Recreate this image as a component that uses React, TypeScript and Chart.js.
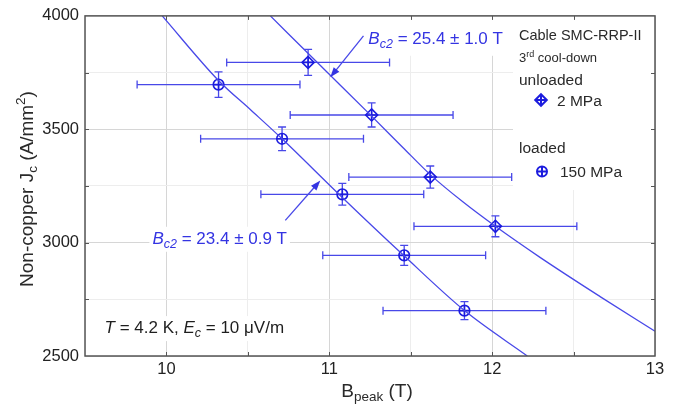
import React, { useEffect, useRef } from "react";
import { Chart, registerables } from "chart.js";
Chart.register(...registerables);

// ---------- data ----------
const xTickValues = [10, 11, 12, 13];
const xTickLabels = ["10", "11", "12", "13"];
const yTickValues = [2500, 3000, 3500, 4000];
const yTickLabels = ["2500", "3000", "3500", "4000"];

// unloaded, 2 MPa (diamonds)
const unloadedB = [10.87, 11.26, 11.62, 12.02];
const unloadedJc = [3795, 3563, 3289, 3072];
const unloadedBErr = [0.5, 0.5, 0.5, 0.5];
const unloadedJcErr = [57, 53, 49, 46];

// loaded, 150 MPa (circles)
const loadedB = [10.32, 10.71, 11.08, 11.46, 11.83];
const loadedJc = [3697, 3458, 3213, 2944, 2700];
const loadedBErr = [0.5, 0.5, 0.5, 0.5, 0.5];
const loadedJcErr = [56, 52, 48, 44, 40];

// fit curves
const fitUnloadedB = [10.638, 10.95, 11.26, 11.45, 11.62, 11.82, 12.018, 12.294, 12.663, 13.0];
const fitUnloadedJc = [4000, 3778, 3558, 3421, 3300, 3180, 3073, 2935, 2762, 2609];
const fitLoadedB = [9.974, 10.321, 10.515, 10.71, 11.067, 11.456, 11.834, 12.216];
const fitLoadedJc = [4000, 3714, 3587, 3458, 3208, 2944, 2698, 2500];

const FONT = '"Liberation Sans", Arial, Helvetica, sans-serif';
const LINE = "rgb(72,72,232)";
const MARK = "rgb(28,28,222)";
const TEXTBLUE = "rgb(52,52,226)";
const AXIS = "#555555";

type Part = { t: string; size: number; italic?: boolean; dy?: number };
const fontOf = (p: Part) => `${p.italic ? "italic " : ""}${p.size}px ${FONT}`;
function partsWidth(ctx: CanvasRenderingContext2D, parts: Part[]) {
  let w = 0;
  for (const p of parts) {
    ctx.font = fontOf(p);
    w += ctx.measureText(p.t).width;
  }
  return w;
}
function drawParts(ctx: CanvasRenderingContext2D, parts: Part[], x: number, y: number) {
  let cx = x;
  for (const p of parts) {
    ctx.font = fontOf(p);
    ctx.fillText(p.t, cx, y + (p.dy || 0));
    cx += ctx.measureText(p.t).width;
  }
}

const ann1: Part[] = [
  { t: "B", size: 17, italic: true },
  { t: "c2", size: 12.5, italic: true, dy: 4 },
  { t: " = 25.4 \u00B1 1.0 T", size: 17 },
];
const ann2: Part[] = [
  { t: "B", size: 17, italic: true },
  { t: "c2", size: 12.5, italic: true, dy: 4 },
  { t: " = 23.4 \u00B1 0.9 T", size: 17 },
];
const ann3: Part[] = [
  { t: "T", size: 17, italic: true },
  { t: " = 4.2 K, ", size: 17 },
  { t: "E", size: 17, italic: true },
  { t: "c", size: 12.5, italic: true, dy: 4 },
  { t: " = 10 \u03BCV/m", size: 17 },
];
const yTitle: Part[] = [
  { t: "Non-copper J", size: 19 },
  { t: "c", size: 13.5, dy: 4 },
  { t: " (A/mm", size: 19 },
  { t: "2", size: 13.5, dy: -8 },
  { t: ")", size: 19 },
];
const xTitle: Part[] = [
  { t: "B", size: 19 },
  { t: "peak", size: 13.5, dy: 4 },
  { t: " (T)", size: 19 },
];

function arrow(ctx: CanvasRenderingContext2D, x0: number, y0: number, x1: number, y1: number) {
  const ang = Math.atan2(y1 - y0, x1 - x0);
  const L = 10, W = 3.6;
  ctx.beginPath();
  ctx.moveTo(x0, y0);
  ctx.lineTo(x1 - Math.cos(ang) * L * 0.8, y1 - Math.sin(ang) * L * 0.8);
  ctx.stroke();
  ctx.beginPath();
  ctx.moveTo(x1, y1);
  ctx.lineTo(x1 - Math.cos(ang) * L - Math.sin(ang) * W, y1 - Math.sin(ang) * L + Math.cos(ang) * W);
  ctx.lineTo(x1 - Math.cos(ang) * L + Math.sin(ang) * W, y1 - Math.sin(ang) * L - Math.cos(ang) * W);
  ctx.closePath();
  ctx.fill();
}

function legendMarker(ctx: CanvasRenderingContext2D, x: number, y: number, diamond: boolean) {
  const r = 5;
  ctx.beginPath();
  if (diamond) {
    ctx.moveTo(x, y - r - 0.8);
    ctx.lineTo(x + r + 0.8, y);
    ctx.lineTo(x, y + r + 0.8);
    ctx.lineTo(x - r - 0.8, y);
    ctx.closePath();
  } else {
    ctx.arc(x, y, r, 0, Math.PI * 2);
  }
  ctx.moveTo(x - r, y);
  ctx.lineTo(x + r, y);
  ctx.moveTo(x, y - r);
  ctx.lineTo(x, y + r);
  ctx.stroke();
}

const overlay = {
  id: "overlay",
  beforeDatasetsDraw(chart: any) {
    const { ctx, scales, chartArea } = chart;
    const xs = scales.x, ys = scales.y;
    ctx.save();
    ctx.fillStyle = "#ffffff";
    // legend background
    ctx.fillRect(513, 16, 141, 174);
    // annotation backgrounds
    const a1x = xs.getPixelForValue(11.24), a1y = ys.getPixelForValue(3877);
    ctx.fillRect(a1x - 3, chartArea.top + 1, partsWidth(ctx, ann1) + 6, a1y + 12 - chartArea.top - 1);
    const a2x = xs.getPixelForValue(9.914), a2y = ys.getPixelForValue(2995);
    ctx.fillRect(a2x - 3, a2y - 17, partsWidth(ctx, ann2) + 6, 25);
    const a3x = xs.getPixelForValue(9.62), a3y = ys.getPixelForValue(2601);
    ctx.fillRect(a3x - 3, a3y - 17, partsWidth(ctx, ann3) + 6, 25);

    // error bars
    ctx.strokeStyle = LINE;
    ctx.lineWidth = 1.3;
    const bars = (B: number[], J: number[], BE: number[], JE: number[]) => {
      for (let i = 0; i < B.length; i++) {
        const cx = xs.getPixelForValue(B[i]);
        const cy = ys.getPixelForValue(J[i]);
        const xl = xs.getPixelForValue(B[i] - BE[i]);
        const xr = xs.getPixelForValue(B[i] + BE[i]);
        const yt = ys.getPixelForValue(J[i] + JE[i]);
        const yb = ys.getPixelForValue(J[i] - JE[i]);
        ctx.beginPath();
        ctx.moveTo(xl, cy); ctx.lineTo(xr, cy);
        ctx.moveTo(xl, cy - 4); ctx.lineTo(xl, cy + 4);
        ctx.moveTo(xr, cy - 4); ctx.lineTo(xr, cy + 4);
        ctx.moveTo(cx, yt); ctx.lineTo(cx, yb);
        ctx.moveTo(cx - 4, yt); ctx.lineTo(cx + 4, yt);
        ctx.moveTo(cx - 4, yb); ctx.lineTo(cx + 4, yb);
        ctx.stroke();
      }
    };
    bars(unloadedB, unloadedJc, unloadedBErr, unloadedJcErr);
    bars(loadedB, loadedJc, loadedBErr, loadedJcErr);
    ctx.restore();
  },
  afterDraw(chart: any) {
    const { ctx, scales, chartArea } = chart;
    const xs = scales.x, ys = scales.y;
    const { left, right, top, bottom } = chartArea;
    ctx.save();
    // frame
    ctx.strokeStyle = AXIS;
    ctx.lineWidth = 1.5;
    ctx.strokeRect(left, top, right - left, bottom - top);
    // inward tick marks
    ctx.lineWidth = 1;
    ctx.beginPath();
    for (let v = 10; v < 13; v += 0.5) {
      const px = Math.round(xs.getPixelForValue(v)) + 0.5;
      ctx.moveTo(px, bottom); ctx.lineTo(px, bottom - 4);
      ctx.moveTo(px, top); ctx.lineTo(px, top + 4);
    }
    for (let v = 2750; v < 4000; v += 250) {
      const py = Math.round(ys.getPixelForValue(v)) + 0.5;
      ctx.moveTo(left, py); ctx.lineTo(left + 4, py);
      ctx.moveTo(right, py); ctx.lineTo(right - 4, py);
    }
    ctx.stroke();

    ctx.textBaseline = "alphabetic";
    ctx.textAlign = "left";
    // annotations
    ctx.fillStyle = TEXTBLUE;
    ctx.strokeStyle = LINE;
    ctx.lineWidth = 1.3;
    drawParts(ctx, ann1, xs.getPixelForValue(11.24), ys.getPixelForValue(3877));
    drawParts(ctx, ann2, xs.getPixelForValue(9.914), ys.getPixelForValue(2995));
    arrow(ctx, xs.getPixelForValue(11.21), ys.getPixelForValue(3912), xs.getPixelForValue(11.006), ys.getPixelForValue(3729));
    arrow(ctx, xs.getPixelForValue(10.73), ys.getPixelForValue(3098), xs.getPixelForValue(10.945), ys.getPixelForValue(3274));
    ctx.fillStyle = "#1e1e1e";
    drawParts(ctx, ann3, xs.getPixelForValue(9.62), ys.getPixelForValue(2601));

    // legend
    ctx.fillStyle = "#2a2a2a";
    drawParts(ctx, [{ t: "Cable SMC-RRP-II", size: 14.5 }], 519, 40);
    drawParts(ctx, [{ t: "3", size: 13 }, { t: "rd", size: 9, dy: -5 }, { t: " cool-down", size: 13 }], 519, 62);
    drawParts(ctx, [{ t: "unloaded", size: 15.5 }], 519, 84.5);
    drawParts(ctx, [{ t: "2 MPa", size: 15.5 }], 557, 105.5);
    drawParts(ctx, [{ t: "loaded", size: 15.5 }], 519, 153);
    drawParts(ctx, [{ t: "150 MPa", size: 15.5 }], 560, 177);
    ctx.strokeStyle = MARK;
    ctx.lineWidth = 2;
    legendMarker(ctx, 541, 100, true);
    legendMarker(ctx, 542, 171.5, false);

    // axis titles
    ctx.fillStyle = "#2a2a2a";
    const xw = partsWidth(ctx, xTitle);
    drawParts(ctx, xTitle, 377 - xw / 2, 396.5);
    const yw = partsWidth(ctx, yTitle);
    ctx.translate(33, 189);
    ctx.rotate(-Math.PI / 2);
    drawParts(ctx, yTitle, -yw / 2, 0);
    ctx.restore();
  },
};

export default function App() {
  const ref = useRef<HTMLCanvasElement>(null);
  useEffect(() => {
    document.body.style.margin = "0";
    const toPts = (a: number[], b: number[]) => a.map((v, i) => ({ x: v, y: b[i] }));
    const chart = new Chart(ref.current as HTMLCanvasElement, {
      type: "scatter",
      data: {
        datasets: [
          {
            data: toPts(fitUnloadedB, fitUnloadedJc),
            showLine: true,
            borderColor: LINE,
            borderWidth: 1.3,
            pointRadius: 0,
            cubicInterpolationMode: "monotone",
          } as any,
          {
            data: toPts(fitLoadedB, fitLoadedJc),
            showLine: true,
            borderColor: LINE,
            borderWidth: 1.3,
            pointRadius: 0,
            cubicInterpolationMode: "monotone",
          } as any,
          {
            data: toPts(unloadedB, unloadedJc),
            pointStyle: "rectRot",
            pointRadius: 6,
            borderColor: MARK,
            pointBorderWidth: 1.6,
            backgroundColor: "rgba(0,0,0,0)",
          } as any,
          {
            data: toPts(unloadedB, unloadedJc),
            pointStyle: "cross",
            pointRadius: 6,
            borderColor: MARK,
            pointBorderWidth: 1.6,
          } as any,
          {
            data: toPts(loadedB, loadedJc),
            pointStyle: "circle",
            pointRadius: 5.3,
            borderColor: MARK,
            pointBorderWidth: 1.6,
            backgroundColor: "rgba(0,0,0,0)",
          } as any,
          {
            data: toPts(loadedB, loadedJc),
            pointStyle: "cross",
            pointRadius: 5.3,
            borderColor: MARK,
            pointBorderWidth: 1.6,
          } as any,
        ],
      },
      options: {
        responsive: false,
        animation: false,
        devicePixelRatio: 1,
        layout: { padding: { top: 15, right: 26, left: 0, bottom: 0 } },
        plugins: { legend: { display: false }, tooltip: { enabled: false } },
        scales: {
          x: {
            type: "linear",
            min: 9.5,
            max: 13,
            afterFit: (s: any) => {
              s.height = 51;
            },
            ticks: {
              stepSize: 0.5,
              autoSkip: false,
              maxRotation: 0,
              padding: 4,
              color: "#222222",
              font: { family: FONT, size: 16.5 },
              callback: (v: any) => {
                const i = xTickValues.indexOf(Number(v));
                return i >= 0 ? xTickLabels[i] : "";
              },
            },
            grid: {
              drawTicks: false,
              lineWidth: 1,
              color: (c: any) => (c.tick && Number.isInteger(c.tick.value) ? "#d6d6d6" : "#ededed"),
            },
            border: { display: false },
          },
          y: {
            type: "linear",
            min: 2500,
            max: 4000,
            afterFit: (s: any) => {
              s.width = 85;
            },
            ticks: {
              stepSize: 250,
              autoSkip: false,
              padding: 6,
              color: "#222222",
              font: { family: FONT, size: 16.5 },
              callback: (v: any) => {
                const i = yTickValues.indexOf(Number(v));
                return i >= 0 ? yTickLabels[i] : "";
              },
            },
            grid: {
              drawTicks: false,
              lineWidth: 1,
              color: (c: any) => (c.tick && c.tick.value % 500 === 0 ? "#d6d6d6" : "#ededed"),
            },
            border: { display: false },
          },
        },
      },
      plugins: [overlay],
    } as any);
    return () => chart.destroy();
  }, []);
  return (
    <div style={{ width: 681, height: 407 }}>
      <canvas ref={ref} width={681} height={407} style={{ display: "block" }} />
    </div>
  );
}
